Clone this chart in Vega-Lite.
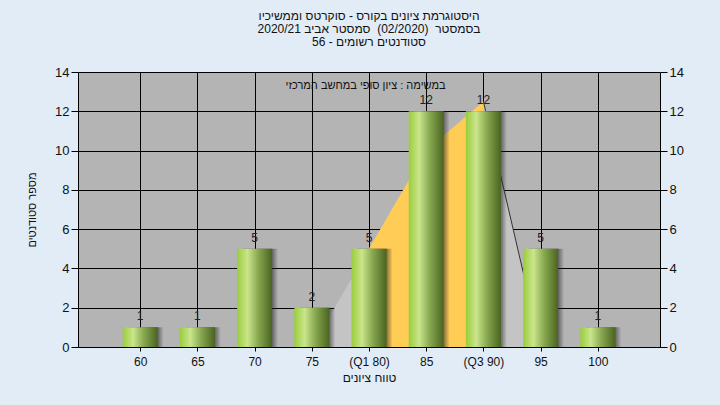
{
  "$schema": "https://vega.github.io/schema/vega-lite/v6.json",
  "width": 582,
  "height": 275,
  "autosize": {"type": "none"},
  "padding": {"left": 78, "top": 72, "right": 60, "bottom": 58},
  "background": "#e2ecf7",
  "config": {
    "font": "Liberation Sans",
    "view": {"fill": "#b4b4b4", "stroke": null},
    "axis": {
      "domainColor": "#000000",
      "tickColor": "#000000",
      "gridColor": "#000000",
      "gridOpacity": 1,
      "labelColor": "#111111",
      "titleColor": "#111111",
      "titleFontWeight": "normal"
    }
  },
  "title": {
    "text": ["היסטוגרמת ציונים בקורס - סוקרטס וממשיכיו", "בסמסטר\u00a0\u00a0(02/2020)\u00a0\u00a0סמסטר אביב 2020/21", "סטודנטים רשומים - 56"],
    "fontSize": 12,
    "fontWeight": "normal",
    "color": "#111111",
    "anchor": "middle",
    "frame": "group",
    "offset": 17,
    "lineHeight": 13
  },
  "datasets": {
    "bars": [
      {"score": 60, "count": 1},
      {"score": 65, "count": 1},
      {"score": 70, "count": 5},
      {"score": 75, "count": 2},
      {"score": 80, "count": 5},
      {"score": 85, "count": 12},
      {"score": 90, "count": 12},
      {"score": 95, "count": 5},
      {"score": 100, "count": 1}
    ],
    "curve": [
      {"score": 75, "y": 0},
      {"score": 80, "y": 5},
      {"score": 85, "y": 10},
      {"score": 90, "y": 12.5},
      {"score": 95, "y": 0}
    ],
    "note": [
      {"score": 79.7, "y": 13.3, "label": "במשימה : ציון סופי במחשב המרכזי"}
    ]
  },
  "layer": [
    {
      "data": {"name": "curve"},
      "mark": {"type": "area", "color": "#c4c4c4"},
      "encoding": {
        "x": {
          "field": "score",
          "type": "quantitative",
          "scale": {"domain": [55, 105], "nice": false, "zero": false},
          "axis": {
            "values": [60, 65, 70, 75, 80, 85, 90, 95, 100],
            "labelExpr": "datum.value == 80 ? '(Q1 80)' : datum.value == 90 ? '(Q3 90)' : datum.label",
            "title": "טווח ציונים",
            "grid": true,
            "tickSize": 4,
            "labelFontSize": 12,
            "titleFontSize": 12,
            "labelPadding": 5,
            "titlePadding": 5
          }
        },
        "y": {
          "field": "y",
          "type": "quantitative",
          "scale": {"domain": [0, 14], "nice": false},
          "axis": null
        }
      }
    },
    {
      "data": {"name": "curve"},
      "transform": [{"filter": "datum.score >= 80 && datum.score <= 90"}],
      "mark": {"type": "area", "color": "#ffcc55"},
      "encoding": {
        "x": {"field": "score", "type": "quantitative"},
        "y": {"field": "y", "type": "quantitative", "scale": {"domain": [0, 14], "nice": false}, "axis": null}
      }
    },
    {
      "data": {"name": "curve"},
      "transform": [{"filter": "datum.score >= 90"}],
      "mark": {"type": "line", "color": "#333333", "strokeWidth": 1},
      "encoding": {
        "x": {"field": "score", "type": "quantitative"},
        "y": {"field": "y", "type": "quantitative", "scale": {"domain": [0, 14], "nice": false}, "axis": null}
      }
    },
    {
      "data": {"name": "bars"},
      "mark": {
        "type": "bar",
        "size": 35,
        "xOffset": 6,
        "color": {
          "gradient": "linear", "x1": 0, "x2": 1, "y1": 0, "y2": 0,
          "stops": [
            {"offset": 0, "color": "rgba(40,40,40,0.7)"},
            {"offset": 0.82, "color": "rgba(40,40,40,0.6)"},
            {"offset": 1, "color": "rgba(40,40,40,0)"}
          ]
        }
      },
      "encoding": {
        "x": {"field": "score", "type": "quantitative"},
        "y": {"field": "count", "type": "quantitative", "scale": {"domain": [0, 14], "nice": false}, "axis": null}
      }
    },
    {
      "data": {"name": "bars"},
      "mark": {
        "type": "bar",
        "size": 35,
        "color": {
          "gradient": "linear", "x1": 0, "x2": 1, "y1": 0, "y2": 0,
          "stops": [
            {"offset": 0, "color": "#9acd3c"},
            {"offset": 0.3, "color": "#cae58c"},
            {"offset": 0.6, "color": "#88a850"},
            {"offset": 1, "color": "#4a6420"}
          ]
        }
      },
      "encoding": {
        "x": {"field": "score", "type": "quantitative"},
        "y": {
          "field": "count",
          "type": "quantitative",
          "scale": {"domain": [0, 14], "nice": false},
          "axis": {
            "orient": "left",
            "values": [0, 2, 4, 6, 8, 10, 12, 14],
            "grid": true,
            "tickSize": 7,
            "labelFontSize": 13,
            "labelPadding": 2,
            "title": "מספר סטודנטים",
            "titleFontSize": 11,
            "titlePadding": 17
          }
        }
      }
    },
    {
      "data": {"name": "bars"},
      "mark": {"type": "text", "baseline": "alphabetic", "dy": -7, "fontSize": 12, "color": "#222222"},
      "encoding": {
        "x": {"field": "score", "type": "quantitative"},
        "y": {
          "field": "count",
          "type": "quantitative",
          "scale": {"domain": [0, 14], "nice": false},
          "axis": {
            "orient": "right",
            "values": [0, 2, 4, 6, 8, 10, 12, 14],
            "grid": false,
            "tickSize": 7,
            "labelFontSize": 13,
            "labelPadding": 2,
            "title": null
          }
        },
        "text": {"field": "count", "type": "quantitative"}
      }
    },
    {
      "data": {"name": "note"},
      "mark": {"type": "text", "baseline": "middle", "align": "center", "fontSize": 11, "color": "#111111"},
      "encoding": {
        "x": {"field": "score", "type": "quantitative"},
        "y": {"field": "y", "type": "quantitative", "scale": {"domain": [0, 14], "nice": false}, "axis": null},
        "text": {"field": "label"}
      }
    }
  ],
  "resolve": {"axis": {"y": "independent"}}
}
